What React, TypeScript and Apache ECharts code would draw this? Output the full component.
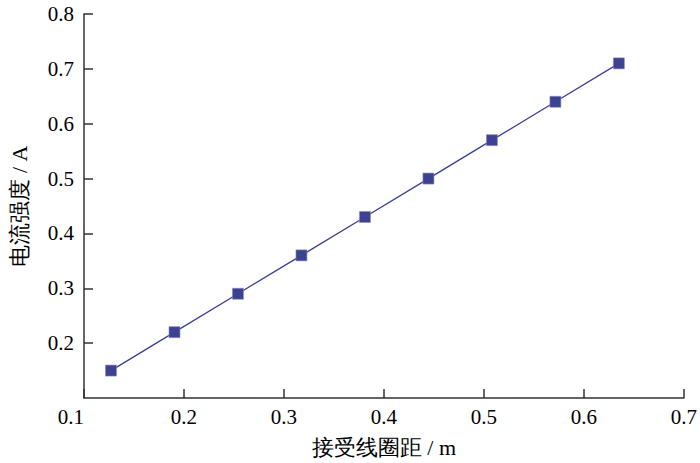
import React, { useEffect, useRef } from "react";
import * as echarts from "echarts";

const xValues = [0.127, 0.1905, 0.254, 0.3175, 0.381, 0.4445, 0.508, 0.5715, 0.635];
const yValues = [0.15, 0.22, 0.29, 0.36, 0.43, 0.5, 0.57, 0.64, 0.71];
const xName = "接受线圈距 / m";
const yName = "电流强度 / A";

const FONT = "Times New Roman";

export default function App() {
  const ref = useRef<HTMLDivElement>(null);
  useEffect(() => {
    if (!ref.current) return;
    const chart = echarts.init(ref.current, undefined, { renderer: "svg" });
    const data = xValues.map((x, i) => [x, yValues[i]]);
    const axisCommon = {
      axisLine: { show: true, lineStyle: { color: "#333", width: 1.5 } },
      axisTick: { show: true, inside: true, length: 9, lineStyle: { color: "#333", width: 1.5 } },
      splitLine: { show: false },
      nameLocation: "middle" as const,
      nameTextStyle: { fontFamily: FONT, fontSize: 22, color: "#000" },
    };
    chart.setOption({
      animation: false,
      backgroundColor: "#fff",
      textStyle: { fontFamily: FONT },
      grid: { left: 76, right: 15, top: 14, bottom: 64, containLabel: false },
      xAxis: {
        type: "value",
        min: 0.1,
        max: 0.7,
        interval: 0.1,
        name: xName,
        nameGap: 38,
        ...axisCommon,
        axisLabel: {
          fontFamily: FONT,
          fontSize: 21,
          color: "#000",
          margin: 8,
          alignMinLabel: "right",
          formatter: (v: number) => v.toFixed(1),
        },
      },
      yAxis: {
        type: "value",
        min: 0.1,
        max: 0.8,
        interval: 0.1,
        name: yName,
        nameGap: 54,
        ...axisCommon,
        axisLabel: {
          fontFamily: FONT,
          fontSize: 21,
          color: "#000",
          margin: 10,
          showMinLabel: false,
          formatter: (v: number) => v.toFixed(1),
        },
      },
      series: [
        {
          type: "line",
          data,
          symbol: "rect",
          symbolSize: 11,
          lineStyle: { color: "#3a3f94", width: 1.3 },
          itemStyle: { color: "#3c4190", borderColor: "#8a8dbf", borderWidth: 0.6 },
        },
      ],
    });
    return () => chart.dispose();
  }, []);
  return <div ref={ref} style={{ width: 700, height: 463, position: "absolute", left: 0, top: 0 }} />;
}
